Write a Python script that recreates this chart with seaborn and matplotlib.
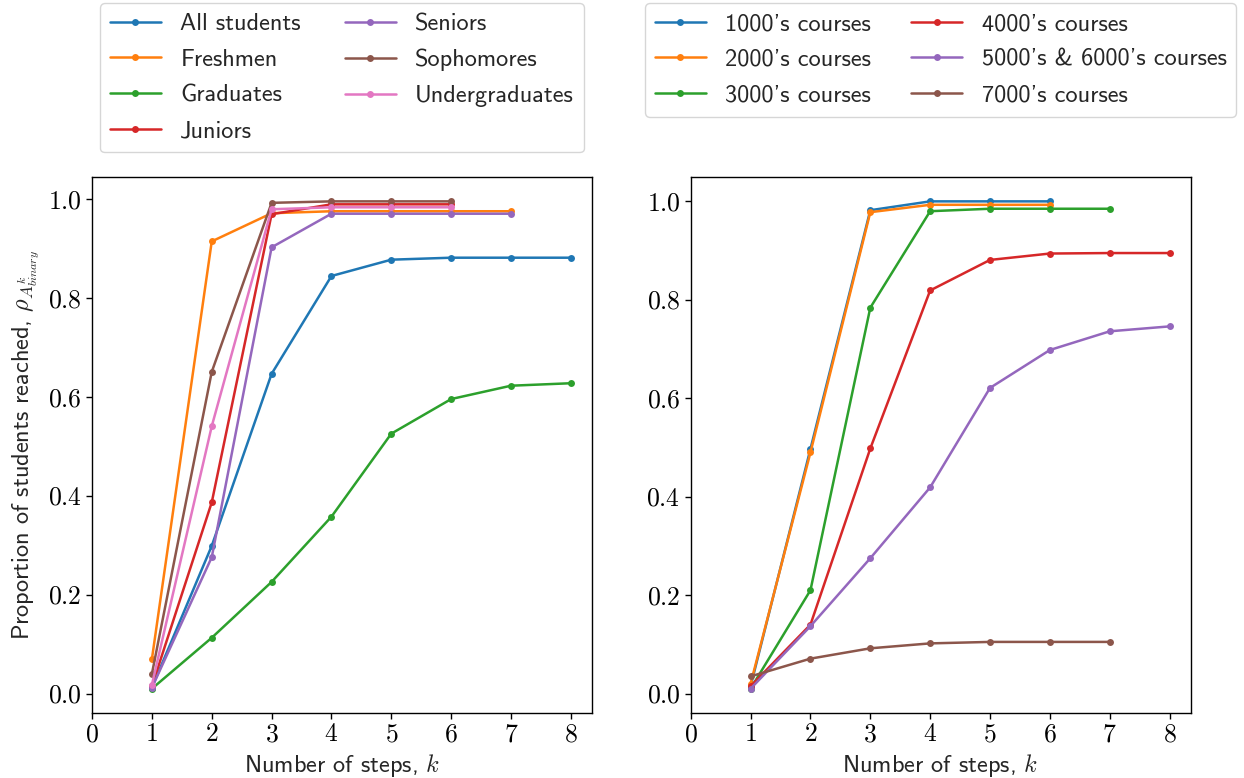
import numpy as np
import pandas as pd
import matplotlib
matplotlib.use("Agg")
import matplotlib.pyplot as plt
import seaborn as sns
from matplotlib.ticker import FuncFormatter

# ---------------- data ----------------
steps = [1, 2, 3, 4, 5, 6, 7, 8]

student_groups = ["All students", "Freshmen", "Graduates", "Juniors",
                  "Seniors", "Sophomores", "Undergraduates"]
all_students = [0.012, 0.299, 0.647, 0.845, 0.878, 0.882, 0.882, 0.882]
freshmen = [0.070, 0.915, 0.972, 0.976, 0.976, 0.976, 0.976]
graduates = [0.010, 0.113, 0.226, 0.358, 0.526, 0.596, 0.623, 0.628]
juniors = [0.015, 0.387, 0.970, 0.990, 0.990, 0.990]
seniors = [0.012, 0.276, 0.903, 0.971, 0.971, 0.971, 0.971]
sophomores = [0.040, 0.651, 0.993, 0.996, 0.996, 0.996]
undergraduates = [0.018, 0.541, 0.980, 0.984, 0.984, 0.984]
student_values = [all_students, freshmen, graduates, juniors,
                  seniors, sophomores, undergraduates]

course_groups = ["1000's courses", "2000's courses", "3000's courses",
                 "4000's courses", "5000's & 6000's courses", "7000's courses"]
c1000 = [0.015, 0.497, 0.982, 1.000, 1.000, 1.000]
c2000 = [0.020, 0.490, 0.978, 0.993, 0.993, 0.993]
c3000 = [0.010, 0.210, 0.784, 0.980, 0.985, 0.985, 0.985]
c4000 = [0.015, 0.140, 0.498, 0.819, 0.881, 0.894, 0.895, 0.895]
c5000_6000 = [0.010, 0.137, 0.275, 0.419, 0.621, 0.698, 0.736, 0.746]
c7000 = [0.035, 0.071, 0.092, 0.102, 0.105, 0.105, 0.105]
course_values = [c1000, c2000, c3000, c4000, c5000_6000, c7000]

x_ticks = [0, 1, 2, 3, 4, 5, 6, 7, 8]
y_ticks = [0.0, 0.2, 0.4, 0.6, 0.8, 1.0]

# ---------------- style ----------------
sns.set_theme(style="ticks")
plt.rcParams["font.family"] = ["cmss10", "DejaVu Sans"]
plt.rcParams["mathtext.fontset"] = "cm"
plt.rcParams["axes.unicode_minus"] = False
plt.rcParams["axes.formatter.use_mathtext"] = True
FS = 17.5
TFS = 18.5

palette = sns.color_palette("tab10")


def to_long(names, values):
    rows = []
    for n, vals in zip(names, values):
        for s, v in zip(steps, vals):
            rows.append({"group": n, "k": s, "rho": v})
    return pd.DataFrame(rows)


fig, axes = plt.subplots(1, 2, figsize=(12.44, 7.78), dpi=100)
fig.subplots_adjust(left=0.074, right=0.957, bottom=0.0835, top=0.7725, wspace=0.198)

for ax, names, values, colsp in [
    (axes[0], student_groups, student_values, 1.8),
    (axes[1], course_groups, course_values, 1.65),
]:
    df = to_long(names, values)
    sns.lineplot(data=df, x="k", y="rho", hue="group", hue_order=names,
                 palette=palette[:len(names)], marker="o", markersize=5,
                 markeredgewidth=0, linewidth=1.8, ax=ax, legend=True)
    ax.set_xlim(0, 8.35)
    ax.set_xticks(x_ticks)
    ax.set_yticks(y_ticks)
    ax.xaxis.set_major_formatter(FuncFormatter(lambda v, p: r"$%d$" % v))
    ax.yaxis.set_major_formatter(FuncFormatter(lambda v, p: r"$%.1f$" % v))
    ax.tick_params(labelsize=TFS, length=4, width=1, direction="out", colors="black")
    for sp in ax.spines.values():
        sp.set_color("black")
        sp.set_linewidth(1.0)
    ax.set_xlabel(r"Number of steps, $k$", fontsize=FS)
    ax.set_ylabel("")
    handles, labels = ax.get_legend_handles_labels()
    ax.legend(handles, labels, loc="upper center", bbox_to_anchor=(0.5, 1.324),
              borderaxespad=0.0, ncol=2, fontsize=FS, frameon=True,
              edgecolor="#cccccc", fancybox=True, handlelength=2.1,
              handletextpad=0.8, columnspacing=colsp, labelspacing=0.57)

axes[0].set_ylabel(r"Proportion of students reached, $\rho_{A^k_{binary}}$", fontsize=FS)

fig.savefig("out.png", dpi=100)
